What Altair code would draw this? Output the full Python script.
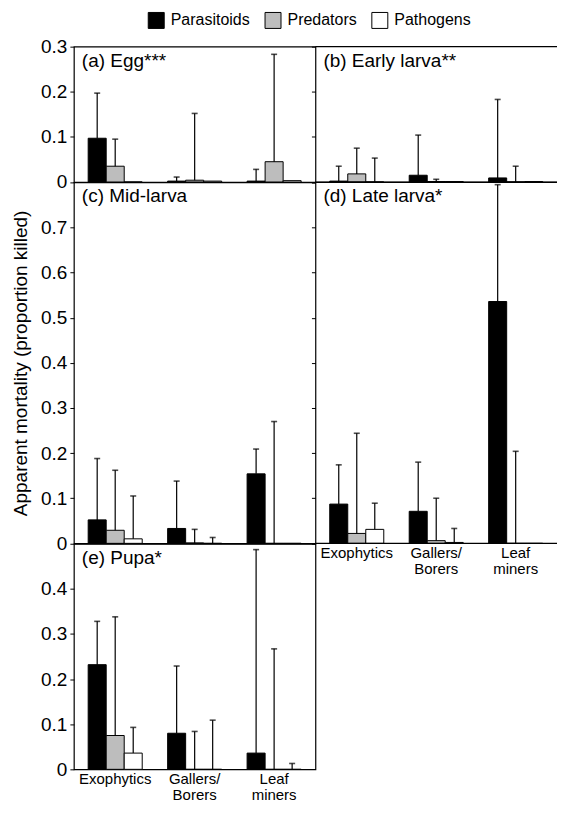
import altair as alt
import pandas as pd

groups = ["Exophytics", "Gallers/Borers", "Leaf miners"]
agents = ["Parasitoids", "Predators", "Pathogens"]
fills = ["#000000", "#bdbdbd", "#ffffff"]

titles = ["(a) Egg***", "(b) Early larva**", "(c) Mid-larva", "(d) Late larva*", "(e) Pupa*"]
ymaxes = [0.3, 0.3, 0.8, 0.8, 0.5]

# order: Exophytics(P, Pr, Pa), Gallers/Borers(P, Pr, Pa), Leaf miners(P, Pr, Pa)
egg_mean = [0.097, 0.035, 0.000, 0.002, 0.004, 0.002, 0.002, 0.045, 0.003]
egg_err = [0.197, 0.095, 0.000, 0.011, 0.152, 0.000, 0.028, 0.283, 0.000]

early_mean = [0.002, 0.018, 0.000, 0.015, 0.001, 0.001, 0.009, 0.000, 0.001]
early_err = [0.035, 0.075, 0.053, 0.104, 0.006, 0.000, 0.183, 0.035, 0.000]

mid_mean = [0.052, 0.029, 0.010, 0.033, 0.001, 0.000, 0.154, 0.000, 0.000]
mid_err = [0.188, 0.162, 0.105, 0.138, 0.031, 0.013, 0.209, 0.270, 0.000]

late_mean = [0.087, 0.022, 0.031, 0.071, 0.006, 0.002, 0.536, 0.000, 0.000]
late_err = [0.174, 0.244, 0.089, 0.180, 0.100, 0.033, 0.795, 0.204, 0.000]

pupa_mean = [0.232, 0.075, 0.036, 0.080, 0.000, 0.000, 0.036, 0.000, 0.000]
pupa_err = [0.328, 0.338, 0.093, 0.229, 0.084, 0.109, 0.487, 0.267, 0.013]

means = [egg_mean, early_mean, mid_mean, late_mean, pupa_mean]
errs = [egg_err, early_err, mid_err, late_err, pupa_err]

FONT = "Liberation Sans"
W = 242
PX_PER_UNIT = 452


def panel(i, show_ylabels, show_xlabels, ytitle, right_col):
    rows = []
    for gi, g in enumerate(groups):
        for ai, a in enumerate(agents):
            k = gi * 3 + ai
            rows.append({"group": g, "agent": a, "mean": means[i][k], "err": errs[i][k]})
    df = pd.DataFrame(rows)
    ymax = ymaxes[i]
    H = ymax * PX_PER_UNIT
    ticks = [round(v * 0.1, 1) for v in range(0, int(round(ymax * 10)) + 1)]
    label_ticks = ticks if ymax <= 0.3 else ticks[:-1]

    if show_xlabels:
        xaxis = alt.Axis(
            title=None, ticks=False, domain=False, labelAngle=0,
            labelFontSize=15, labelFont=FONT, labelColor="black", labelPadding=2,
            labelLineHeight=16,
            labelExpr="datum.label == 'Gallers/Borers' ? ['Gallers/', 'Borers'] : "
                      "datum.label == 'Leaf miners' ? ['Leaf', 'miners'] : datum.label",
        )
    else:
        xaxis = None

    x = alt.X("group:N", sort=groups,
              scale=alt.Scale(paddingInner=0.32, paddingOuter=0.18), axis=xaxis)
    xo = alt.XOffset("agent:N", sort=agents, scale=alt.Scale(paddingInner=0, paddingOuter=0))

    yaxis = alt.Axis(
        values=label_ticks if show_ylabels else ticks,
        labels=show_ylabels, domain=False, grid=False,
        tickSize=4, tickColor="black", tickWidth=1,
        labelFontSize=19, labelFont=FONT, labelColor="black", labelPadding=3,
        labelExpr="datum.value == 0 ? '0' : format(datum.value, '.1f')",
        title=ytitle if ytitle else None,
        titleFontSize=19, titleFont=FONT, titleFontWeight="normal", titleColor="black",
        titlePadding=10,
    )
    y = alt.Y("mean:Q", scale=alt.Scale(domain=[0, ymax], nice=False, zero=True), axis=yaxis)

    base = alt.Chart(df)
    bars = base.mark_bar(stroke="black", strokeWidth=1).encode(
        x=x, xOffset=xo, y=y,
        fill=alt.Fill("agent:N", sort=agents,
                      scale=alt.Scale(domain=agents, range=fills),
                      legend=alt.Legend(
                          title=None, orient="none", direction="horizontal",
                          legendX=74, legendY=-35,
                          symbolType="square", symbolSize=256,
                          symbolStrokeColor="black", symbolStrokeWidth=1,
                          labelFontSize=16, labelFont=FONT, labelColor="black",
                          labelOffset=6, columnPadding=12,
                      )),
    )
    ebar = base.transform_filter("datum.err > datum.mean").mark_rule(
        color="black", strokeWidth=1.2).encode(
        x=x, xOffset=xo, y=alt.Y("mean:Q"), y2="err:Q")
    caps = base.transform_filter("datum.err > datum.mean").mark_tick(
        color="black", size=6, thickness=1.6).encode(
        x=x, xOffset=xo, y=alt.Y("err:Q"))
    label = alt.Chart(pd.DataFrame({"t": [titles[i]]})).mark_text(
        align="left", baseline="top", fontSize=19, font=FONT, color="black").encode(
        text="t:N", x=alt.value(8), y=alt.value(5))
    layers = [bars, ebar, caps, label]
    props = dict(width=W, height=H)
    if right_col:
        edge = pd.DataFrame({"e": ["top", "bottom"]})
        top = alt.Chart(edge).transform_filter("datum.e == 'top'").mark_rule(
            color="black", strokeWidth=1.2).encode(
            x=alt.value(0), x2=alt.value(W), y=alt.value(0))
        bot = alt.Chart(edge).transform_filter("datum.e == 'bottom'").mark_rule(
            color="black", strokeWidth=1.2).encode(
            x=alt.value(0), x2=alt.value(W), y=alt.value(H))
        layers += [top, bot]
        props["view"] = alt.ViewBackground(strokeOpacity=0)
    return alt.layer(*layers).properties(**props)


a = panel(0, True, False, None, False)
b = panel(1, False, False, None, True)
c = panel(2, True, False, "Apparent mortality (proportion killed)", False)
d = panel(3, False, True, None, True)
e = panel(4, True, True, None, False)

chart = alt.concat(
    a, b, c, d, e, columns=2, spacing=0, bounds="flush", align="each",
    padding={"left": 2, "top": 3, "right": 0, "bottom": 0},
).configure_view(stroke="black", strokeWidth=1.2)

chart.save("out.html", embed_options={"renderer": "svg", "actions": False})
